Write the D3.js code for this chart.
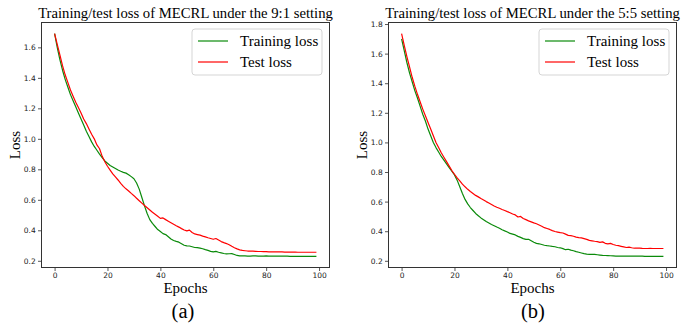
<!DOCTYPE html>
<html><head><meta charset="utf-8">
<script src="https://cdn.jsdelivr.net/npm/d3@7"></script>
<style>
html,body{margin:0;padding:0;background:#fff;}
svg{display:block;}
</style></head>
<body>
<script>
// ---- data ----
const epochs = d3.range(0, 100);
const xTicks = [0, 20, 40, 60, 80, 100];
const yTicksA = [0.2, 0.4, 0.6, 0.8, 1.0, 1.2, 1.4, 1.6];
const yTicksB = [0.2, 0.4, 0.6, 0.8, 1.0, 1.2, 1.4, 1.6, 1.8];
const titles = ["Training/test loss of MECRL under the 9:1 setting", "Training/test loss of MECRL under the 5:5 setting"];
const captions = ["(a)", "(b)"];
const seriesNames = ["Training loss", "Test loss"];
const xLabel = "Epochs";
const yLabel = "Loss";

const trainA = [
1.69,1.60,1.52,1.45,1.39,1.34,1.29,1.25,1.21,1.17,
1.13,1.09,1.05,1.015,0.98,0.95,0.925,0.90,0.877,0.855,
0.84,0.825,0.815,0.805,0.795,0.787,0.78,0.775,0.765,0.752,
0.738,0.71,0.67,0.615,0.56,0.51,0.47,0.445,0.425,0.405,
0.392,0.378,0.372,0.358,0.343,0.333,0.327,0.322,0.312,0.302,
0.298,0.297,0.292,0.287,0.286,0.283,0.279,0.273,0.268,0.262,
0.258,0.262,0.256,0.252,0.248,0.245,0.246,0.247,0.241,0.235,
0.232,0.233,0.232,0.231,0.231,0.232,0.232,0.231,0.231,0.231,
0.232,0.231,0.231,0.230,0.230,0.230,0.230,0.230,0.230,0.229,
0.229,0.229,0.229,0.229,0.229,0.229,0.229,0.229,0.229,0.229];
const testA = [
1.69,1.62,1.55,1.48,1.42,1.37,1.32,1.28,1.24,1.205,
1.17,1.13,1.10,1.065,1.03,1.00,0.96,0.935,0.885,0.85,
0.82,0.795,0.77,0.75,0.73,0.708,0.688,0.672,0.658,0.642,
0.627,0.61,0.594,0.578,0.563,0.548,0.533,0.518,0.505,0.492,
0.478,0.481,0.47,0.46,0.45,0.44,0.43,0.421,0.411,0.402,
0.396,0.401,0.386,0.376,0.372,0.368,0.362,0.357,0.351,0.346,
0.341,0.346,0.336,0.326,0.319,0.313,0.305,0.295,0.286,0.278,
0.272,0.268,0.266,0.264,0.263,0.263,0.262,0.261,0.261,0.26,
0.26,0.259,0.259,0.258,0.258,0.258,0.258,0.257,0.257,0.257,
0.257,0.257,0.256,0.256,0.256,0.256,0.256,0.256,0.256,0.256];
const trainB = [
1.70,1.62,1.54,1.47,1.41,1.35,1.30,1.245,1.19,1.145,
1.09,1.045,1.00,0.965,0.935,0.905,0.88,0.855,0.83,0.805,
0.78,0.745,0.70,0.655,0.615,0.585,0.56,0.54,0.52,0.505,
0.49,0.478,0.465,0.455,0.445,0.437,0.428,0.42,0.41,0.402,
0.395,0.385,0.38,0.375,0.365,0.358,0.35,0.345,0.345,0.335,
0.325,0.318,0.315,0.31,0.305,0.302,0.30,0.297,0.295,0.29,
0.288,0.282,0.275,0.278,0.272,0.268,0.262,0.258,0.253,0.248,
0.245,0.243,0.244,0.243,0.241,0.239,0.237,0.236,0.235,0.234,
0.233,0.232,0.232,0.231,0.231,0.231,0.231,0.231,0.231,0.231,
0.231,0.231,0.230,0.230,0.230,0.230,0.230,0.230,0.230,0.230];
const testB = [
1.735,1.655,1.58,1.51,1.44,1.38,1.325,1.275,1.225,1.18,
1.135,1.09,1.045,1.00,0.965,0.93,0.90,0.87,0.84,0.81,
0.785,0.76,0.74,0.718,0.70,0.683,0.668,0.655,0.642,0.632,
0.621,0.611,0.60,0.59,0.58,0.57,0.562,0.555,0.547,0.54,
0.532,0.525,0.516,0.51,0.496,0.5,0.486,0.478,0.47,0.463,
0.456,0.45,0.442,0.434,0.424,0.418,0.412,0.404,0.398,0.394,
0.39,0.388,0.38,0.372,0.37,0.366,0.36,0.357,0.355,0.35,
0.345,0.338,0.335,0.332,0.33,0.325,0.328,0.318,0.315,0.318,
0.31,0.305,0.302,0.298,0.294,0.29,0.292,0.288,0.285,0.285,
0.286,0.284,0.283,0.283,0.284,0.283,0.283,0.283,0.283,0.283];

// ---- layout ----
const W = 697, H = 326;
const serif = "'Liberation Serif','Times New Roman',Times,serif";
const sans = "'DejaVu Sans',sans-serif";
const colors = ["#0a8a0a", "#ff0000"];

const panels = [
  {left: 41.5, title: titles[0], cap: captions[0], capX: 183, train: trainA, test: testA, yTicks: yTicksA},
  {left: 388.5, title: titles[1], cap: captions[1], capX: 533, train: trainB, test: testB, yTicks: yTicksB}
];
const pw = 288, plotTop = 22.5, plotBottom = 267.5;

const svg = d3.select("body").append("svg").attr("width", W).attr("height", H);

function padded(ext){ const d = ext[1]-ext[0]; return [ext[0]-0.05*d, ext[1]+0.05*d]; }

panels.forEach(p => {
  const g = svg.append("g");
  const x = d3.scaleLinear().domain(padded(d3.extent(epochs))).range([p.left, p.left+pw]);
  const y = d3.scaleLinear().domain(padded(d3.extent(p.train.concat(p.test)))).range([plotBottom, plotTop]);

  // lines
  const line = data => d3.line().x((d,i)=>x(epochs[i])).y(d=>y(d))(data);
  [p.train, p.test].forEach((s, k) => {
    g.append("path").attr("d", line(s)).attr("fill","none")
      .attr("stroke", colors[k]).attr("stroke-width", 1.2).attr("stroke-linejoin","round");
  });

  // axes
  const ax = g.append("g").attr("transform", `translate(0,${plotBottom})`)
    .call(d3.axisBottom(x).tickValues(xTicks).tickSize(3.5).tickPadding(1.8).tickFormat(d3.format("d")));
  const ay = g.append("g").attr("transform", `translate(${p.left},0)`)
    .call(d3.axisLeft(y).tickValues(p.yTicks).tickSize(3.5).tickPadding(2.3).tickFormat(d3.format(".1f")));
  [ax, ay].forEach(a => {
    a.select(".domain").remove();
    a.selectAll("line").attr("stroke", "#444").attr("stroke-width", 0.9);
    a.selectAll("text").attr("font-family", sans).attr("font-size", 7.5).attr("fill", "#222");
  });

  // frame
  g.append("rect").attr("x", p.left).attr("y", plotTop).attr("width", pw).attr("height", plotBottom-plotTop)
    .attr("fill","none").attr("stroke","#333").attr("stroke-width", 1);

  // title
  g.append("text").attr("x", p.left+pw/2).attr("y", 18).attr("text-anchor","middle")
    .attr("font-family", serif).attr("font-size", 14.7).attr("fill","#000").text(p.title);

  // x label
  g.append("text").attr("x", p.left+pw/2).attr("y", 293.3).attr("text-anchor","middle")
    .attr("font-family", serif).attr("font-size", 15).attr("fill","#000").text(xLabel);
  // y label
  g.append("text").attr("transform", `translate(${p.left-22},${(plotTop+plotBottom)/2}) rotate(-90)`)
    .attr("text-anchor","middle").attr("font-family", serif).attr("font-size", 15).attr("fill","#000").text(yLabel);
  // caption
  g.append("text").attr("x", p.capX).attr("y", 318).attr("text-anchor","middle")
    .attr("font-family", serif).attr("font-size", 20.5).attr("fill","#000").text(p.cap);

  // legend
  const lx = p.left + pw - 137.5, ly = 29;
  g.append("rect").attr("x", lx).attr("y", ly).attr("width", 130).attr("height", 46).attr("rx", 3)
    .attr("fill","#fff").attr("fill-opacity",0.8).attr("stroke","#d0d0d0").attr("stroke-width",0.9);
  seriesNames.forEach((n, k) => {
    const yy = ly + 12 + k*21;
    g.append("line").attr("x1", lx+6).attr("x2", lx+36).attr("y1", yy).attr("y2", yy)
      .attr("stroke", colors[k]).attr("stroke-width", 1.2);
    g.append("text").attr("x", lx+48).attr("y", yy+5.3).attr("font-family", serif).attr("font-size", 15)
      .attr("fill","#000").text(n);
  });
});
</script>
</body></html>
